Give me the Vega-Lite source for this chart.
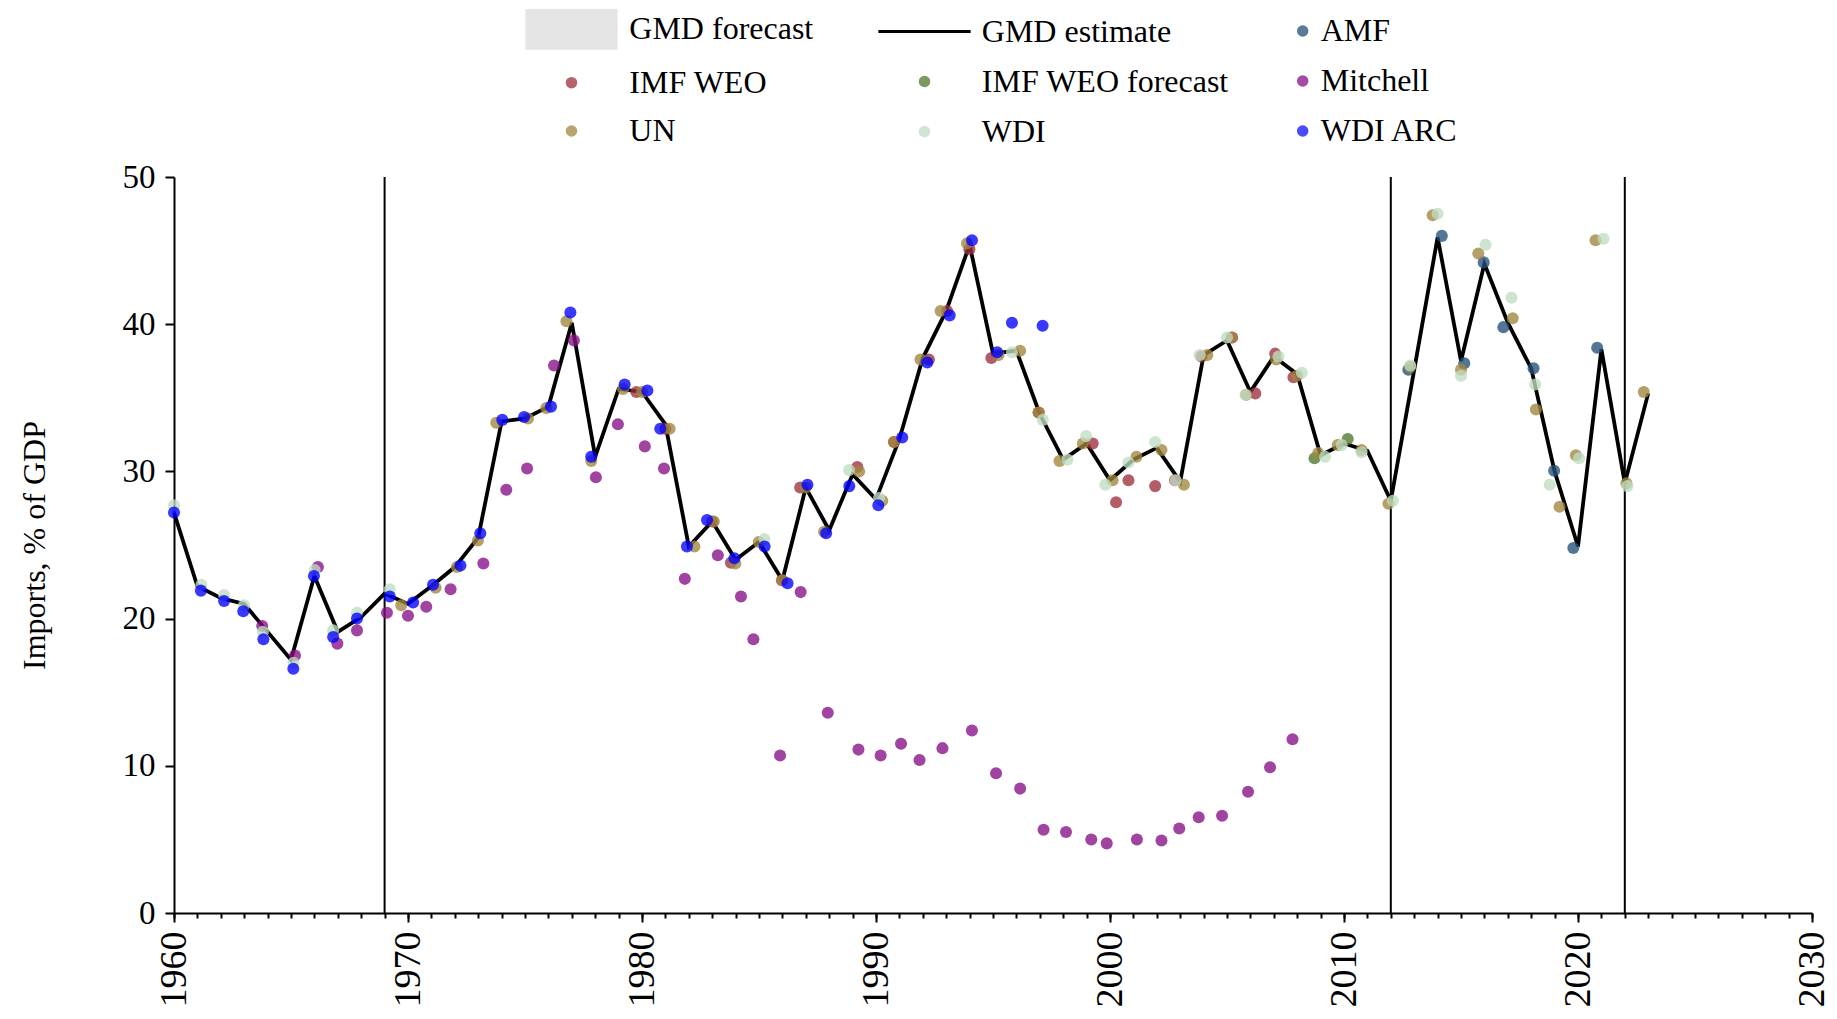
{
  "$schema": "https://vega.github.io/schema/vega-lite/v6.json",
  "width": 1638,
  "height": 736,
  "autosize": {"type": "none"},
  "padding": {"left": 174, "top": 177, "right": 25, "bottom": 106},
  "background": "#ffffff",
  "config": {
    "view": {"stroke": null},
    "font": "Liberation Serif",
    "axis": {
      "grid": false,
      "domainColor": "#000000",
      "tickColor": "#000000",
      "labelColor": "#000000",
      "titleColor": "#000000",
      "domainWidth": 2,
      "tickWidth": 2,
      "labelFont": "Liberation Serif",
      "titleFont": "Liberation Serif",
      "titleFontWeight": "normal"
    },
    "legend": {
      "labelFont": "Liberation Serif",
      "labelFontSize": 32,
      "labelColor": "#000000",
      "labelLimit": 500,
      "padding": 0,
      "symbolSize": 133,
      "symbolStrokeWidth": 0,
      "symbolOpacity": 1
    }
  },
  "datasets": {
    "gmd": [
      {"year": 1960, "value": 27.2}, {"year": 1961, "value": 22.2}, {"year": 1962, "value": 21.4}, {"year": 1963, "value": 21.0},
      {"year": 1964, "value": 19.1}, {"year": 1965, "value": 17.2}, {"year": 1966, "value": 22.9}, {"year": 1967, "value": 19.1},
      {"year": 1968, "value": 20.1}, {"year": 1969, "value": 21.7}, {"year": 1970, "value": 21.0}, {"year": 1971, "value": 22.2},
      {"year": 1972, "value": 23.5}, {"year": 1973, "value": 25.5}, {"year": 1974, "value": 33.4}, {"year": 1975, "value": 33.6},
      {"year": 1976, "value": 34.4}, {"year": 1977, "value": 40.1}, {"year": 1978, "value": 31.0}, {"year": 1979, "value": 35.6},
      {"year": 1980, "value": 35.4}, {"year": 1981, "value": 33.2}, {"year": 1982, "value": 24.9}, {"year": 1983, "value": 26.6},
      {"year": 1984, "value": 24.0}, {"year": 1985, "value": 25.2}, {"year": 1986, "value": 22.6}, {"year": 1987, "value": 28.9},
      {"year": 1988, "value": 26.0}, {"year": 1989, "value": 29.8}, {"year": 1990, "value": 28.1}, {"year": 1991, "value": 32.2},
      {"year": 1992, "value": 37.7}, {"year": 1993, "value": 40.9}, {"year": 1994, "value": 45.4}, {"year": 1995, "value": 38.0},
      {"year": 1996, "value": 38.2}, {"year": 1997, "value": 33.9}, {"year": 1998, "value": 30.8}, {"year": 1999, "value": 31.9},
      {"year": 2000, "value": 29.4}, {"year": 2001, "value": 30.8}, {"year": 2002, "value": 31.6}, {"year": 2003, "value": 29.3},
      {"year": 2004, "value": 37.9}, {"year": 2005, "value": 38.9}, {"year": 2006, "value": 35.4}, {"year": 2007, "value": 37.8},
      {"year": 2008, "value": 36.6}, {"year": 2009, "value": 31.1}, {"year": 2010, "value": 31.9}, {"year": 2011, "value": 31.4},
      {"year": 2012, "value": 28.0}, {"year": 2013, "value": 36.9}, {"year": 2014, "value": 45.9}, {"year": 2015, "value": 37.5},
      {"year": 2016, "value": 44.1}, {"year": 2017, "value": 40.1}, {"year": 2018, "value": 37.0}, {"year": 2019, "value": 30.0},
      {"year": 2020, "value": 24.9}, {"year": 2021, "value": 38.3}, {"year": 2022, "value": 29.2}, {"year": 2023, "value": 35.3}
    ],
    "vlines": [{"year": 1969}, {"year": 2012}, {"year": 2022}],
    "obs": [
      {"source": "AMF", "year": 2012.75, "value": 36.9}, {"source": "AMF", "year": 2014.18, "value": 46.0},
      {"source": "AMF", "year": 2015.14, "value": 37.35}, {"source": "AMF", "year": 2015.97, "value": 44.2},
      {"source": "AMF", "year": 2016.81, "value": 39.8}, {"source": "AMF", "year": 2018.1, "value": 37.0},
      {"source": "AMF", "year": 2018.98, "value": 30.05}, {"source": "AMF", "year": 2019.8, "value": 24.8},
      {"source": "AMF", "year": 2020.82, "value": 38.4},

      {"source": "IMF WEO", "year": 1979.76, "value": 35.4}, {"source": "IMF WEO", "year": 1981.0, "value": 32.9},
      {"source": "IMF WEO", "year": 1983.0, "value": 26.6}, {"source": "IMF WEO", "year": 1983.8, "value": 23.8},
      {"source": "IMF WEO", "year": 1985.98, "value": 22.6}, {"source": "IMF WEO", "year": 1986.76, "value": 28.9},
      {"source": "IMF WEO", "year": 1989.2, "value": 30.3}, {"source": "IMF WEO", "year": 1990.77, "value": 32.0},
      {"source": "IMF WEO", "year": 1992.26, "value": 37.6}, {"source": "IMF WEO", "year": 1993.04, "value": 40.9},
      {"source": "IMF WEO", "year": 1993.99, "value": 45.1}, {"source": "IMF WEO", "year": 1994.93, "value": 37.7},
      {"source": "IMF WEO", "year": 1996.95, "value": 34.0}, {"source": "IMF WEO", "year": 1999.26, "value": 31.9},
      {"source": "IMF WEO", "year": 2000.26, "value": 27.9}, {"source": "IMF WEO", "year": 2000.79, "value": 29.4},
      {"source": "IMF WEO", "year": 2001.93, "value": 29.0}, {"source": "IMF WEO", "year": 2002.78, "value": 29.4},
      {"source": "IMF WEO", "year": 2003.91, "value": 37.8}, {"source": "IMF WEO", "year": 2005.22, "value": 39.1},
      {"source": "IMF WEO", "year": 2006.21, "value": 35.3}, {"source": "IMF WEO", "year": 2007.06, "value": 38.0},
      {"source": "IMF WEO", "year": 2007.84, "value": 36.4},

      {"source": "IMF WEO forecast", "year": 2008.74, "value": 30.9}, {"source": "IMF WEO forecast", "year": 2010.16, "value": 32.2},

      {"source": "Mitchell", "year": 1963.77, "value": 19.5}, {"source": "Mitchell", "year": 1965.17, "value": 17.5},
      {"source": "Mitchell", "year": 1966.15, "value": 23.5}, {"source": "Mitchell", "year": 1966.98, "value": 18.3},
      {"source": "Mitchell", "year": 1967.82, "value": 19.2}, {"source": "Mitchell", "year": 1969.1, "value": 20.4},
      {"source": "Mitchell", "year": 1970.0, "value": 20.2}, {"source": "Mitchell", "year": 1970.78, "value": 20.8},
      {"source": "Mitchell", "year": 1971.82, "value": 22.0}, {"source": "Mitchell", "year": 1973.22, "value": 23.75},
      {"source": "Mitchell", "year": 1974.2, "value": 28.75}, {"source": "Mitchell", "year": 1975.09, "value": 30.2},
      {"source": "Mitchell", "year": 1976.24, "value": 37.2}, {"source": "Mitchell", "year": 1977.09, "value": 38.9},
      {"source": "Mitchell", "year": 1978.03, "value": 29.6}, {"source": "Mitchell", "year": 1978.97, "value": 33.2},
      {"source": "Mitchell", "year": 1980.12, "value": 31.7}, {"source": "Mitchell", "year": 1980.94, "value": 30.2},
      {"source": "Mitchell", "year": 1981.83, "value": 22.7}, {"source": "Mitchell", "year": 1983.24, "value": 24.3},
      {"source": "Mitchell", "year": 1984.23, "value": 21.5}, {"source": "Mitchell", "year": 1984.76, "value": 18.6},
      {"source": "Mitchell", "year": 1985.9, "value": 10.7}, {"source": "Mitchell", "year": 1986.78, "value": 21.8},
      {"source": "Mitchell", "year": 1987.94, "value": 13.6}, {"source": "Mitchell", "year": 1989.25, "value": 11.1},
      {"source": "Mitchell", "year": 1990.2, "value": 10.7}, {"source": "Mitchell", "year": 1991.07, "value": 11.5},
      {"source": "Mitchell", "year": 1991.86, "value": 10.4}, {"source": "Mitchell", "year": 1992.84, "value": 11.2},
      {"source": "Mitchell", "year": 1994.1, "value": 12.4}, {"source": "Mitchell", "year": 1995.13, "value": 9.5},
      {"source": "Mitchell", "year": 1996.16, "value": 8.45}, {"source": "Mitchell", "year": 1997.16, "value": 5.65},
      {"source": "Mitchell", "year": 1998.12, "value": 5.5}, {"source": "Mitchell", "year": 1999.2, "value": 5.0},
      {"source": "Mitchell", "year": 1999.86, "value": 4.73}, {"source": "Mitchell", "year": 2001.15, "value": 5.0},
      {"source": "Mitchell", "year": 2002.2, "value": 4.93}, {"source": "Mitchell", "year": 2002.96, "value": 5.74},
      {"source": "Mitchell", "year": 2003.79, "value": 6.5}, {"source": "Mitchell", "year": 2004.79, "value": 6.6},
      {"source": "Mitchell", "year": 2005.9, "value": 8.24}, {"source": "Mitchell", "year": 2006.84, "value": 9.9},
      {"source": "Mitchell", "year": 2007.8, "value": 11.8},

      {"source": "UN", "year": 1969.71, "value": 20.9}, {"source": "UN", "year": 1971.18, "value": 22.1},
      {"source": "UN", "year": 1972.09, "value": 23.5}, {"source": "UN", "year": 1972.99, "value": 25.3},
      {"source": "UN", "year": 1973.77, "value": 33.3}, {"source": "UN", "year": 1975.13, "value": 33.6},
      {"source": "UN", "year": 1975.91, "value": 34.3}, {"source": "UN", "year": 1976.77, "value": 40.2},
      {"source": "UN", "year": 1977.83, "value": 30.7}, {"source": "UN", "year": 1979.19, "value": 35.6},
      {"source": "UN", "year": 1980.0, "value": 35.4}, {"source": "UN", "year": 1981.18, "value": 32.9},
      {"source": "UN", "year": 1982.24, "value": 24.9}, {"source": "UN", "year": 1983.07, "value": 26.6},
      {"source": "UN", "year": 1983.99, "value": 23.75}, {"source": "UN", "year": 1984.99, "value": 25.2},
      {"source": "UN", "year": 1986.0, "value": 22.6}, {"source": "UN", "year": 1987.0, "value": 28.9},
      {"source": "UN", "year": 1987.78, "value": 25.9}, {"source": "UN", "year": 1989.28, "value": 30.0},
      {"source": "UN", "year": 1990.27, "value": 28.0}, {"source": "UN", "year": 1990.77, "value": 32.0},
      {"source": "UN", "year": 1991.9, "value": 37.6}, {"source": "UN", "year": 1992.76, "value": 40.9},
      {"source": "UN", "year": 1993.89, "value": 45.5}, {"source": "UN", "year": 1995.24, "value": 37.9},
      {"source": "UN", "year": 1996.16, "value": 38.2}, {"source": "UN", "year": 1996.95, "value": 34.0},
      {"source": "UN", "year": 1997.84, "value": 30.7}, {"source": "UN", "year": 1998.84, "value": 31.9},
      {"source": "UN", "year": 2000.11, "value": 29.4}, {"source": "UN", "year": 2001.13, "value": 31.0},
      {"source": "UN", "year": 2002.2, "value": 31.45}, {"source": "UN", "year": 2003.16, "value": 29.1},
      {"source": "UN", "year": 2004.16, "value": 37.9}, {"source": "UN", "year": 2005.19, "value": 39.1},
      {"source": "UN", "year": 2005.82, "value": 35.2}, {"source": "UN", "year": 2007.1, "value": 37.6},
      {"source": "UN", "year": 2008.0, "value": 36.5}, {"source": "UN", "year": 2008.9, "value": 31.25},
      {"source": "UN", "year": 2009.73, "value": 31.8}, {"source": "UN", "year": 2010.75, "value": 31.45},
      {"source": "UN", "year": 2011.9, "value": 27.8}, {"source": "UN", "year": 2012.83, "value": 37.1},
      {"source": "UN", "year": 2013.79, "value": 47.4}, {"source": "UN", "year": 2015.0, "value": 36.9},
      {"source": "UN", "year": 2015.74, "value": 44.8}, {"source": "UN", "year": 2017.21, "value": 40.4},
      {"source": "UN", "year": 2018.2, "value": 34.2}, {"source": "UN", "year": 2019.21, "value": 27.6},
      {"source": "UN", "year": 2019.91, "value": 31.1}, {"source": "UN", "year": 2020.75, "value": 45.7},
      {"source": "UN", "year": 2022.07, "value": 29.2}, {"source": "UN", "year": 2022.81, "value": 35.4},

      {"source": "WDI", "year": 1960.0, "value": 27.7}, {"source": "WDI", "year": 1961.17, "value": 22.3},
      {"source": "WDI", "year": 1962.14, "value": 21.6}, {"source": "WDI", "year": 1962.99, "value": 20.9},
      {"source": "WDI", "year": 1963.8, "value": 19.1}, {"source": "WDI", "year": 1965.11, "value": 17.0},
      {"source": "WDI", "year": 1966.01, "value": 23.3}, {"source": "WDI", "year": 1966.8, "value": 19.2},
      {"source": "WDI", "year": 1967.82, "value": 20.4}, {"source": "WDI", "year": 1969.22, "value": 22.0},
      {"source": "WDI", "year": 1985.23, "value": 25.4}, {"source": "WDI", "year": 1988.85, "value": 30.1},
      {"source": "WDI", "year": 1990.13, "value": 28.2}, {"source": "WDI", "year": 1995.81, "value": 38.1},
      {"source": "WDI", "year": 1997.13, "value": 33.5}, {"source": "WDI", "year": 1998.18, "value": 30.8},
      {"source": "WDI", "year": 1998.98, "value": 32.4}, {"source": "WDI", "year": 1999.8, "value": 29.1},
      {"source": "WDI", "year": 2000.79, "value": 30.6}, {"source": "WDI", "year": 2001.93, "value": 32.0},
      {"source": "WDI", "year": 2002.81, "value": 29.4}, {"source": "WDI", "year": 2003.83, "value": 37.9},
      {"source": "WDI", "year": 2005.0, "value": 39.1}, {"source": "WDI", "year": 2005.79, "value": 35.2},
      {"source": "WDI", "year": 2007.2, "value": 37.8}, {"source": "WDI", "year": 2008.2, "value": 36.7},
      {"source": "WDI", "year": 2009.19, "value": 31.0}, {"source": "WDI", "year": 2009.9, "value": 31.8},
      {"source": "WDI", "year": 2010.75, "value": 31.3}, {"source": "WDI", "year": 2012.09, "value": 28.0},
      {"source": "WDI", "year": 2012.83, "value": 37.2}, {"source": "WDI", "year": 2014.0, "value": 47.5},
      {"source": "WDI", "year": 2015.0, "value": 36.5}, {"source": "WDI", "year": 2016.05, "value": 45.4},
      {"source": "WDI", "year": 2017.16, "value": 41.8}, {"source": "WDI", "year": 2018.17, "value": 35.9},
      {"source": "WDI", "year": 2018.79, "value": 29.1}, {"source": "WDI", "year": 2020.04, "value": 30.9},
      {"source": "WDI", "year": 2021.09, "value": 45.8}, {"source": "WDI", "year": 2022.11, "value": 29.0},

      {"source": "WDI ARC", "year": 1960.0, "value": 27.2}, {"source": "WDI ARC", "year": 1961.15, "value": 21.9},
      {"source": "WDI ARC", "year": 1962.14, "value": 21.2}, {"source": "WDI ARC", "year": 1962.96, "value": 20.5},
      {"source": "WDI ARC", "year": 1963.82, "value": 18.6}, {"source": "WDI ARC", "year": 1965.1, "value": 16.6},
      {"source": "WDI ARC", "year": 1965.98, "value": 22.9}, {"source": "WDI ARC", "year": 1966.8, "value": 18.75},
      {"source": "WDI ARC", "year": 1967.82, "value": 20.0}, {"source": "WDI ARC", "year": 1969.22, "value": 21.5},
      {"source": "WDI ARC", "year": 1970.22, "value": 21.1}, {"source": "WDI ARC", "year": 1971.07, "value": 22.3},
      {"source": "WDI ARC", "year": 1972.24, "value": 23.6}, {"source": "WDI ARC", "year": 1973.09, "value": 25.8},
      {"source": "WDI ARC", "year": 1974.03, "value": 33.5}, {"source": "WDI ARC", "year": 1974.96, "value": 33.7},
      {"source": "WDI ARC", "year": 1976.11, "value": 34.4}, {"source": "WDI ARC", "year": 1976.94, "value": 40.8},
      {"source": "WDI ARC", "year": 1977.83, "value": 31.0}, {"source": "WDI ARC", "year": 1979.26, "value": 35.9},
      {"source": "WDI ARC", "year": 1980.23, "value": 35.5}, {"source": "WDI ARC", "year": 1980.78, "value": 32.9},
      {"source": "WDI ARC", "year": 1981.92, "value": 24.9}, {"source": "WDI ARC", "year": 1982.78, "value": 26.7},
      {"source": "WDI ARC", "year": 1983.95, "value": 24.1}, {"source": "WDI ARC", "year": 1985.24, "value": 24.9},
      {"source": "WDI ARC", "year": 1986.22, "value": 22.4}, {"source": "WDI ARC", "year": 1987.07, "value": 29.1},
      {"source": "WDI ARC", "year": 1987.87, "value": 25.8}, {"source": "WDI ARC", "year": 1988.86, "value": 29.0},
      {"source": "WDI ARC", "year": 1990.1, "value": 27.7}, {"source": "WDI ARC", "year": 1991.12, "value": 32.3},
      {"source": "WDI ARC", "year": 1992.19, "value": 37.4}, {"source": "WDI ARC", "year": 1993.15, "value": 40.6},
      {"source": "WDI ARC", "year": 1994.1, "value": 45.7}, {"source": "WDI ARC", "year": 1995.18, "value": 38.1},
      {"source": "WDI ARC", "year": 1995.81, "value": 40.1}, {"source": "WDI ARC", "year": 1997.12, "value": 39.9}
    ]
  },
  "layer": [
    {
      "data": {"name": "vlines"},
      "mark": {"type": "rule", "color": "#000000", "strokeWidth": 2},
      "encoding": {
        "x": {
          "field": "year", "type": "quantitative",
          "scale": {"domain": [1960, 2030], "nice": false, "zero": false},
          "axis": {
            "orient": "bottom", "title": null, "labels": false, "domain": false, "tickSize": 5,
            "values": [1960,1961,1962,1963,1964,1965,1966,1967,1968,1969,1970,1971,1972,1973,1974,1975,1976,1977,1978,1979,1980,1981,1982,1983,1984,1985,1986,1987,1988,1989,1990,1991,1992,1993,1994,1995,1996,1997,1998,1999,2000,2001,2002,2003,2004,2005,2006,2007,2008,2009,2010,2011,2012,2013,2014,2015,2016,2017,2018,2019,2020,2021,2022,2023,2024,2025,2026,2027,2028,2029,2030]
          }
        }
      }
    },
    {
      "data": {"name": "gmd"},
      "mark": {"type": "line", "color": "#000000", "strokeWidth": 3.8},
      "encoding": {
        "x": {
          "field": "year", "type": "quantitative",
          "scale": {"domain": [1960, 2030], "nice": false, "zero": false},
          "axis": {
            "orient": "bottom", "title": null, "tickSize": 9, "values": [1960, 1970, 1980, 1990, 2000, 2010, 2020, 2030],
            "format": "d", "labelAngle": 270, "labelAlign": "right", "labelBaseline": "middle",
            "labelFontSize": 38, "labelPadding": 9, "labelFlush": false, "labelOverlap": false
          }
        },
        "y": {
          "field": "value", "type": "quantitative",
          "scale": {"domain": [0, 50], "nice": false},
          "axis": {
            "title": "Imports, % of GDP", "values": [0, 10, 20, 30, 40, 50], "tickSize": 9,
            "labelFontSize": 33, "labelPadding": 10, "titleFontSize": 32,
            "titleAngle": 270, "titleX": -130, "titleY": 368, "titleAlign": "center", "titleBaseline": "alphabetic"
          }
        }
      }
    },
    {
      "data": {"name": "obs"},
      "mark": {"type": "point", "filled": true, "size": 145, "opacity": 0.78, "strokeWidth": 0},
      "encoding": {
        "x": {"field": "year", "type": "quantitative", "scale": {"domain": [1960, 2030], "nice": false, "zero": false}, "axis": null},
        "y": {
          "field": "value", "type": "quantitative",
          "scale": {"domain": [0, 50], "nice": false},
          "axis": {
            "title": "Imports, % of GDP", "values": [0, 10, 20, 30, 40, 50], "tickSize": 9,
            "labelFontSize": 33, "labelPadding": 10, "titleFontSize": 32,
            "titleAngle": 270, "titleX": -130, "titleY": 368, "titleAlign": "center", "titleBaseline": "alphabetic"
          }
        },
        "color": {
          "field": "source", "type": "nominal", "legend": null,
          "scale": {
            "domain": ["AMF", "IMF WEO", "IMF WEO forecast", "Mitchell", "UN", "WDI", "WDI ARC"],
            "range": ["#234e78", "#9c303e", "#4e782b", "#870e87", "#a0863e", "#bfdcc1", "#0000ff"]
          }
        },
        "order": {"field": "source", "type": "nominal", "sort": "ascending"}
      }
    },
    {
      "data": {"values": []},
      "mark": {"type": "point", "filled": true, "opacity": 1},
      "encoding": {
        "color": {
          "field": "source", "type": "nominal",
          "scale": {"domain": ["GMD forecast", "IMF WEO", "UN"], "range": ["#e5e5e5", "#b5646e", "#b8a46e"]},
          "legend": {
            "title": null, "orient": "none", "legendX": 341.5, "legendY": -163.6, "direction": "vertical",
            "symbolOffset": 40, "labelOffset": 41.8, "rowPadding": 16.3
          }
        },
        "shape": {
          "field": "source", "type": "nominal",
          "scale": {"domain": ["GMD forecast", "IMF WEO", "UN"], "range": ["M-8,-3.52H8V3.52H-8Z", "circle", "circle"]},
          "legend": {
            "title": null, "orient": "none", "legendX": 341.5, "legendY": -163.6, "direction": "vertical",
            "symbolOffset": 40, "labelOffset": 41.8, "rowPadding": 16.3
          }
        }
      }
    },
    {
      "data": {"values": []},
      "mark": {"type": "point", "filled": true, "opacity": 1},
      "encoding": {
        "color": {
          "field": "source", "type": "nominal",
          "scale": {"domain": ["GMD estimate", "IMF WEO forecast", "WDI"], "range": ["#000000", "#7a9a60", "#cfe5d0"]},
          "legend": {
            "title": null, "orient": "none", "legendX": 694.5, "legendY": -161.5, "direction": "vertical",
            "symbolOffset": 40, "labelOffset": 41.3, "rowPadding": 18
          }
        },
        "shape": {
          "field": "source", "type": "nominal",
          "scale": {"domain": ["GMD estimate", "IMF WEO forecast", "WDI"], "range": ["M-8,-0.27H8V0.27H-8Z", "circle", "circle"]},
          "legend": {
            "title": null, "orient": "none", "legendX": 694.5, "legendY": -161.5, "direction": "vertical",
            "symbolOffset": 40, "labelOffset": 41.3, "rowPadding": 18
          }
        }
      }
    },
    {
      "data": {"values": []},
      "mark": {"type": "point", "filled": true, "opacity": 1},
      "encoding": {
        "color": {
          "field": "source", "type": "nominal",
          "scale": {"domain": ["AMF", "Mitchell", "WDI ARC"], "range": ["#5a7a9a", "#a54aa5", "#4a4aff"]},
          "legend": {
            "title": null, "orient": "none", "legendX": 1112.7, "legendY": -162, "direction": "vertical",
            "symbolOffset": 0, "labelOffset": 2, "rowPadding": 18
          }
        }
      }
    }
  ],
  "resolve": {
    "scale": {"color": "independent", "shape": "independent"},
    "axis": {"x": "independent"},
    "legend": {"color": "independent", "shape": "independent"}
  }
}
